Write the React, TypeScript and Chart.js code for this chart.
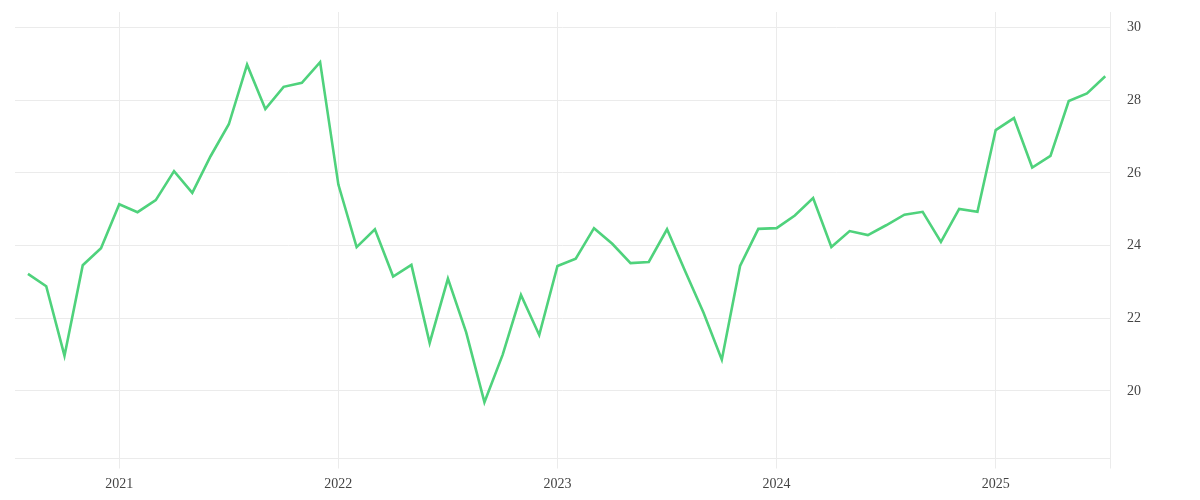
import React, { useEffect, useRef } from 'react';
import { Chart, registerables } from 'chart.js';

Chart.register(...registerables);

// monthly readings, Aug 2020 .. Jul 2025
const months: string[] = [];
for (let y = 2020; y <= 2025; y++) {
  for (let m = 1; m <= 12; m++) {
    if (y === 2020 && m < 8) continue;
    if (y === 2025 && m > 7) continue;
    months.push(`${y}-${String(m).padStart(2, '0')}`);
  }
}

const values2020 = [23.22, 22.88, 20.97, 23.46, 23.93];
const values2021 = [25.14, 24.92, 25.25, 26.05, 25.45, 26.46, 27.34, 28.98, 27.76, 28.37, 28.48, 29.05];
const values2022 = [25.68, 23.96, 24.45, 23.15, 23.47, 21.32, 23.09, 21.61, 19.69, 21.0, 22.64, 21.54];
const values2023 = [23.44, 23.64, 24.48, 24.05, 23.52, 23.55, 24.45, 23.29, 22.15, 20.86, 23.44, 24.46];
const values2024 = [24.48, 24.83, 25.31, 23.96, 24.4, 24.29, 24.56, 24.85, 24.93, 24.1, 25.01, 24.93];
const values2025 = [27.18, 27.51, 26.15, 26.47, 27.98, 28.19, 28.66];
const values = [...values2020, ...values2021, ...values2022, ...values2023, ...values2024, ...values2025];

const yearTicks = ['2021', '2022', '2023', '2024', '2025'];
const yTicks = [20, 22, 24, 26, 28, 30];

const FONT = "'Times New Roman', 'Liberation Serif', serif";
const GRID = '#ebebeb';

const App: React.FC = () => {
  const chartRef = useRef<HTMLCanvasElement>(null);

  useEffect(() => {
    const ctx = chartRef.current?.getContext('2d');
    if (!ctx) return;

    const points = values.map((v, i) => ({ x: i, y: v }));
    const yearIndex = yearTicks.map((yr) => months.indexOf(`${yr}-01`));
    const xMax = months.length - 0.74;

    const chart = new Chart(ctx, {
      type: 'line',
      data: {
        datasets: [
          {
            data: points,
            borderColor: '#4fd27c',
            borderWidth: 2.6,
            pointRadius: 0,
            tension: 0,
            fill: false,
          },
        ],
      },
      options: {
        animation: false,
        responsive: true,
        maintainAspectRatio: false,
        layout: { padding: { left: 15, top: 12, right: 0, bottom: 0 } },
        plugins: {
          legend: { display: false },
          tooltip: { enabled: false },
        },
        scales: {
          x: {
            type: 'linear',
            min: -0.71,
            max: xMax,
            afterBuildTicks: (scale: any) => {
              scale.ticks = [...yearIndex.map((v) => ({ value: v })), { value: xMax }];
            },
            afterFit: (scale: any) => {
              scale.height = 41.5;
              scale.paddingLeft = 0;
              scale.paddingRight = 0;
            },
            grid: { color: GRID, tickLength: 10, drawTicks: true },
            border: { display: true, color: GRID },
            ticks: {
              autoSkip: false,
              maxRotation: 0,
              padding: 7,
              color: '#444',
              font: { family: FONT, size: 14 },
              callback: (v: any) => {
                const i = yearIndex.indexOf(Number(v));
                return i >= 0 ? yearTicks[i] : '';
              },
            },
          },
          y: {
            position: 'right',
            min: 18.14,
            max: 30.43,
            afterBuildTicks: (scale: any) => {
              scale.ticks = yTicks.map((v) => ({ value: v }));
            },
            afterFit: (scale: any) => {
              scale.width = 90;
              scale.paddingTop = 0;
              scale.paddingBottom = 0;
            },
            grid: { color: GRID, drawTicks: false },
            border: { display: true, color: GRID },
            ticks: {
              padding: 17,
              color: '#444',
              font: { family: FONT, size: 14 },
            },
          },
        },
      },
    });

    return () => {
      chart.destroy();
    };
  }, []);

  return (
    <div style={{ position: 'absolute', left: 0, top: 0, width: 1200, height: 500, background: '#fff' }}>
      <canvas ref={chartRef} />
    </div>
  );
};

export default App;
